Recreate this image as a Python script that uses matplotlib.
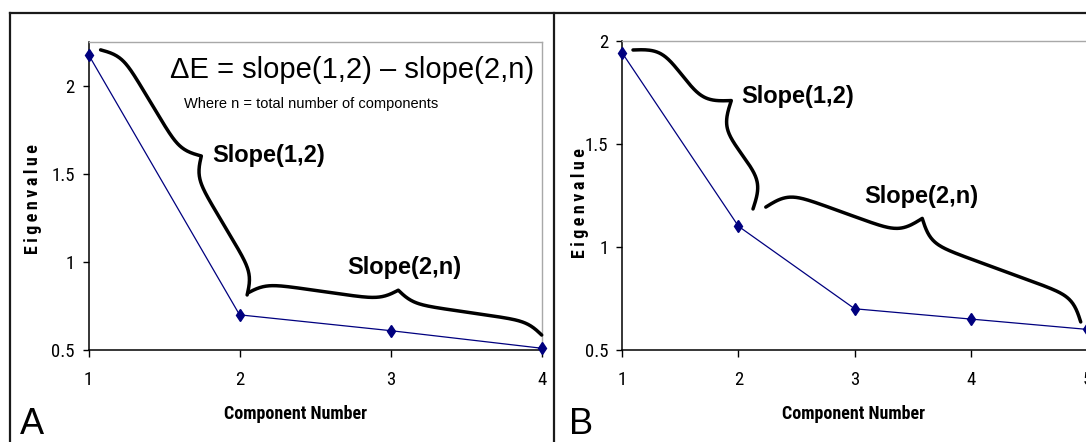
import numpy as np
import matplotlib
matplotlib.use("Agg")
import matplotlib.pyplot as plt
from matplotlib import font_manager
from matplotlib.lines import Line2D

# Scree plots: eigenvalue of each principal component
components_a = [1, 2, 3, 4]
eigen_a = [2.18, 0.70, 0.61, 0.51]
components_b = [1, 2, 3, 4, 5]
eigen_b = [1.94, 1.10, 0.70, 0.65, 0.60]

yticks_a = [0.5, 1, 1.5, 2]
yticks_b = [0.5, 1, 1.5, 2]
ytick_labels = ["0.5", "1", "1.5", "2"]

formula = "\u0394E = slope(1,2) \u2013 slope(2,n)"
formula_note = "Where n = total number of components"

# braces: (start, end) in data coords, height in px, tip position along the brace
braces_a = [((1.08, 2.207), (2.05, 0.813), 32, 0.50),
            ((2.056, 0.825), (4.0, 0.585), 24, 0.50)]
braces_b = [((1.092, 1.955), (2.125, 1.184), 48, 0.50),
            ((2.235, 1.193), (4.946, 0.636), 43, 0.45)]

W, H = 1086, 442
SANS = "Liberation Sans"
LINE = "#00007f"


def pick_narrow():
    # look for a condensed sans face, Arial-like ones first
    narrow = []
    for f in font_manager.fontManager.ttflist:
        st = str(f.stretch).lower()
        if ("narrow" in f.name.lower() or "condensed" in f.name.lower()
                or "condensed" in st or st in ("500", "400", "300")):
            narrow.append(f)
    for pref in ("Liberation", "Arimo", "Roboto", "Open Sans", "Noto Sans", "DejaVu Sans"):
        for f in narrow:
            if f.name.startswith(pref):
                return {"family": f.name, "stretch": f.stretch}
    return {"family": SANS, "stretch": "normal"}


NARROW = pick_narrow()


def px_box(left, top, right, bottom):
    return [left / W, 1 - bottom / H, (right - left) / W, (bottom - top) / H]


def half_brace(length, beta):
    s = np.linspace(0, length, 150)
    off = 1 / (1 + np.exp(-beta * s)) + 1 / (1 + np.exp(-beta * (s - length))) - 0.5
    return s, off


def brace(ax, p0, p1, height, frac=0.5, beta=0.12, lw=2.5):
    a = ax.transData.transform(p0)
    b = ax.transData.transform(p1)
    d = b - a
    total = np.hypot(*d)
    u = d / total
    n = np.array([-u[1], u[0]])
    s1, o1 = half_brace(total * frac, beta)
    s2, o2 = half_brace(total * (1 - frac), beta)
    s = np.concatenate([s1, total - s2[::-1][1:]])
    off = np.concatenate([o1, o2[::-1][1:]])
    pts = a + np.outer(s, u) + np.outer(off * height, n)
    xy = ax.transData.inverted().transform(pts)
    ax.plot(xy[:, 0], xy[:, 1], color="black", lw=lw, clip_on=False,
            solid_capstyle="round", solid_joinstyle="round", zorder=4)


def style_axes(ax, xs, yticks):
    for side in ("top", "right"):
        ax.spines[side].set_color("#a8a8a8")
        ax.spines[side].set_linewidth(1.0)
    for side in ("left", "bottom"):
        ax.spines[side].set_color("black")
        ax.spines[side].set_linewidth(1.1)
    ax.set_xticks(xs)
    ax.set_xticklabels([str(x) for x in xs])
    ax.set_yticks(yticks)
    ax.set_yticklabels(ytick_labels)
    ax.tick_params(axis="both", direction="out", length=4, width=1.0,
                   labelsize=13.5, colors="black")
    ax.tick_params(axis="x", pad=10, length=5)
    ax.tick_params(axis="y", pad=6)
    for lab in ax.get_xticklabels() + ax.get_yticklabels():
        lab.set_family(NARROW["family"])
        lab.set_fontstretch(NARROW["stretch"])
    ax.set_xlabel("Component Number", fontsize=13, fontweight="bold",
                  family=NARROW["family"], fontstretch=NARROW["stretch"])
    ax.set_ylabel("\u2009".join("Eigenvalue"), fontsize=13, fontweight="bold",
                  family=NARROW["family"], fontstretch=NARROW["stretch"])
    ax.xaxis.label.set_va("center")
    ax.yaxis.label.set_va("center")


fig = plt.figure(figsize=(W / 100, H / 100), dpi=100)

# panel A
ax_a = fig.add_axes(px_box(88.5, 42.3, 541.7, 350))
ax_a.plot(components_a, eigen_a, color=LINE, lw=0.9, marker="d", ms=6,
          mfc=LINE, mec=LINE, clip_on=False, zorder=3)
ax_a.set_xlim(1, 4)
ax_a.set_ylim(0.5, 2.25)
style_axes(ax_a, components_a, yticks_a)
ax_a.xaxis.set_label_coords(0.456, -0.208)
ax_a.yaxis.set_label_coords(-0.122, 0.49)

# panel B
ax_b = fig.add_axes(px_box(622.3, 40.7, 1087, 350))
ax_b.plot(components_b, eigen_b, color=LINE, lw=0.9, marker="d", ms=6,
          mfc=LINE, mec=LINE, clip_on=False, zorder=3)
ax_b.set_xlim(1, 5)
ax_b.set_ylim(0.5, 2.0)
style_axes(ax_b, components_b, yticks_b)
ax_b.xaxis.set_label_coords(0.4965, -0.208)
ax_b.yaxis.set_label_coords(-0.091, 0.475)

for p0, p1, h, frac in braces_a:
    brace(ax_a, p0, p1, h, frac)
for p0, p1, h, frac in braces_b:
    brace(ax_b, p0, p1, h, frac)

# annotations
ax_a.text(1.54, 2.09, formula, family=SANS, fontsize=21, va="center", ha="left")
ax_a.text(1.632, 1.90, formula_note, family=SANS, fontsize=10.5, va="center", ha="left")
ax_a.text(1.816, 1.605, "Slope(1,2)", family=SANS, fontsize=17, fontweight="bold",
          va="center", ha="left")
ax_a.text(2.71, 0.967, "Slope(2,n)", family=SANS, fontsize=17, fontweight="bold",
          va="center", ha="left")
ax_b.text(2.028, 1.728, "Slope(1,2)", family=SANS, fontsize=17, fontweight="bold",
          va="center", ha="left")
ax_b.text(3.08, 1.242, "Slope(2,n)", family=SANS, fontsize=17, fontweight="bold",
          va="center", ha="left")

# panel frames and letters
frame_kw = dict(color="#1a1a1a", lw=1.6, transform=fig.transFigure)
fig.add_artist(Line2D([10 / W, 1], [1 - 12.7 / H] * 2, **frame_kw))
fig.add_artist(Line2D([10 / W] * 2, [0, 1 - 12.7 / H], **frame_kw))
fig.add_artist(Line2D([553.5 / W] * 2, [0, 1 - 12.7 / H], **frame_kw))
fig.text(20 / W, 0.5 / H, "A", family=SANS, fontsize=26, va="bottom", ha="left")
fig.text(569 / W, 0.5 / H, "B", family=SANS, fontsize=26, va="bottom", ha="left")

fig.savefig("out.png", dpi=100, facecolor="white")
